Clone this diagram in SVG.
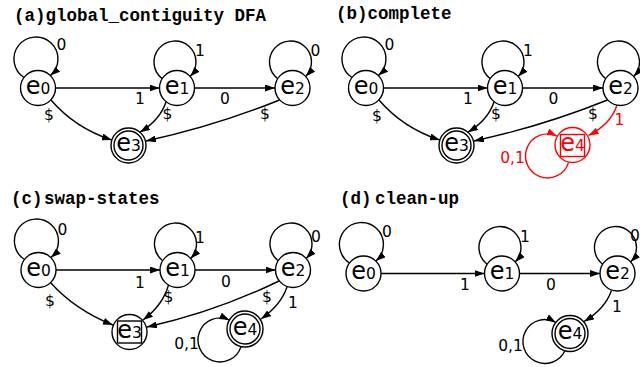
<svg xmlns="http://www.w3.org/2000/svg" width="640" height="367" viewBox="0 0 640 367">
<style>
.t{font-family:"Liberation Mono","Courier New",monospace;font-weight:bold;font-size:17.5px;fill:#000}
.n circle,.n rect{fill:none;stroke:#000;stroke-width:1.4}
.n circle.o{fill:#fff}
.n text{font-family:"DejaVu Sans",Verdana,sans-serif;font-size:24px;text-anchor:middle;fill:#000}
.n tspan{font-size:15.5px}
.red circle,.red rect{stroke:#f00}
.red text{fill:#f00}
.e path{fill:none;stroke:#000;stroke-width:1.4;marker-end:url(#a)}
.e path.r{stroke:#f00;marker-end:url(#ar)}
.l{font-family:"DejaVu Sans",Verdana,sans-serif;font-size:15.5px;text-anchor:middle;fill:#000}
.l .r{fill:#f00}
</style>
<defs>
<marker id="a" viewBox="0 0 10 7" refX="10" refY="3.5" markerWidth="10" markerHeight="7" markerUnits="userSpaceOnUse" orient="auto"><path d="M0,0L10,3.5L0,7z" fill="#000"/></marker>
<marker id="ar" viewBox="0 0 10 7" refX="10" refY="3.5" markerWidth="10" markerHeight="7" markerUnits="userSpaceOnUse" orient="auto"><path d="M0,0L10,3.5L0,7z" fill="#f00"/></marker>
</defs>
<rect width="640" height="367" fill="#fff"/>

<g id="titles">
<text class="t" x="14" y="20.5">(a)global_contiguity DFA</text>
<text class="t" x="336" y="19">(b)complete</text>
<text class="t" x="11" y="203.5">(c)<tspan x="44">swap-states</tspan></text>
<text class="t" x="340" y="203.5">(d)<tspan x="375">clean-up</tspan></text>
</g>

<g id="connectors" class="e">
<!-- panel a -->
<path transform="translate(38,88)" d="M-14 -10.5A22 22 0 1 1 12.4 -12.4"/>
<path transform="translate(177,88)" d="M-14.8 -9.3A21 21 0 1 1 13.2 -11.5"/>
<path transform="translate(292.5,88)" d="M-14.8 -9.3A21 21 0 1 1 13.2 -11.5"/>
<path d="M55.5 88H159.5"/>
<path d="M194.5 88H275"/>
<path d="M51 100Q75 128 111.9 140.1"/>
<path d="M166 102Q160 120 140 132.2"/>
<path d="M279.5 100Q215 126 146 141"/>
<!-- panel b -->
<path transform="translate(366,88)" d="M-14 -10.5A22 22 0 1 1 12.4 -12.4"/>
<path transform="translate(505,88)" d="M-14.8 -9.3A21 21 0 1 1 13.2 -11.5"/>
<path transform="translate(620.5,88)" d="M-14.8 -9.3A21 21 0 1 1 13.2 -11.5"/>
<path d="M383.5 88H487.5"/>
<path d="M522.5 88H603"/>
<path d="M379 100Q403 128 439.9 140.1"/>
<path d="M494 102Q488 120 468 132.2"/>
<path d="M607.5 100Q543 126 474 141"/>
<path class="r" d="M617 105Q611 124 588.5 135.5"/>
<path class="r" transform="translate(572.5,145)" d="M-4 17.6A22 22 0 1 1 -15.6 -8.9"/>
<!-- panel c -->
<path transform="translate(38.5,270)" d="M-14 -10.5A22 22 0 1 1 12.4 -12.4"/>
<path transform="translate(177.5,270)" d="M-14.8 -9.3A21 21 0 1 1 13.2 -11.5"/>
<path transform="translate(293,270)" d="M-14.8 -9.3A21 21 0 1 1 13.2 -11.5"/>
<path d="M56 270H160"/>
<path d="M195 270H275.5"/>
<path d="M50.5 282.5Q75 310 113 325"/>
<path d="M168.5 285Q163 305 143 320"/>
<path d="M279 281Q215 312 147 327"/>
<path d="M287 287Q281 305 261 319"/>
<path transform="translate(245,329)" d="M-4 17.6A22 22 0 1 1 -15.6 -8.9"/>
<!-- panel d -->
<path transform="translate(363.5,273.5)" d="M-14 -10.5A22 22 0 1 1 12.4 -12.4"/>
<path transform="translate(502,273.5)" d="M-14.8 -9.3A21 21 0 1 1 13.2 -11.5"/>
<path transform="translate(617.5,273.5)" d="M-14.8 -9.3A21 21 0 1 1 13.2 -11.5"/>
<path d="M381 273.5H484.5"/>
<path d="M519.5 273.5H600"/>
<path d="M611.5 290.5Q605 309 584 321.5"/>
<path transform="translate(570,333.5)" d="M-5.1 17.3A22 22 0 1 1 -14.1 -11.1"/>
</g>

<g id="edge-labels" class="l">
<text x="61.5" y="50">0</text>
<text x="200" y="56">1</text>
<text x="315.5" y="56">0</text>
<text x="140" y="103.5">1</text>
<text x="225" y="103.5">0</text>
<text x="49" y="120">$</text>
<text x="167.5" y="118.5">$</text>
<text x="265" y="118.5">$</text>

<text x="389.5" y="50">0</text>
<text x="528" y="55.5">1</text>
<text x="468" y="104">1</text>
<text x="553.5" y="103.5">0</text>
<text x="377" y="120.5">$</text>
<text x="496" y="118.5">$</text>
<text x="593" y="118.5">$</text>
<text class="r" x="619.5" y="125">1</text>
<text class="r" x="512.5" y="163">0,1</text>

<text x="62.5" y="235">0</text>
<text x="200" y="243">1</text>
<text x="316" y="241.5">0</text>
<text x="140" y="288">1</text>
<text x="226" y="287">0</text>
<text x="50" y="306">$</text>
<text x="168.5" y="302">$</text>
<text x="267" y="302">$</text>
<text x="293" y="308">1</text>
<text x="186.5" y="349">0,1</text>

<text x="387" y="236.5">0</text>
<text x="525" y="241.5">1</text>
<text x="630" y="241" text-anchor="start">0</text>
<text x="465" y="290">1</text>
<text x="551" y="290">0</text>
<text x="617" y="311.5">1</text>
<text x="510.5" y="351">0,1</text>
</g>

<g id="a-e0" class="n" transform="translate(38,88)"><circle class="o" r="17.5"/><text y="5.8">e<tspan>0</tspan></text></g>
<g id="a-e1" class="n" transform="translate(177,88)"><circle class="o" r="17.5"/><text y="5.8">e<tspan>1</tspan></text></g>
<g id="a-e2" class="n" transform="translate(292.5,88)"><circle class="o" r="17.5"/><text y="5.8">e<tspan>2</tspan></text></g>
<g id="a-e3" class="n" transform="translate(128.5,145.5)"><circle class="o" r="17.5"/><circle r="14.5"/><text y="5.8">e<tspan>3</tspan></text></g>

<g id="b-e0" class="n" transform="translate(366,88)"><circle class="o" r="17.5"/><text y="5.8">e<tspan>0</tspan></text></g>
<g id="b-e1" class="n" transform="translate(505,88)"><circle class="o" r="17.5"/><text y="5.8">e<tspan>1</tspan></text></g>
<g id="b-e2" class="n" transform="translate(620.5,88)"><circle class="o" r="17.5"/><text y="5.8">e<tspan>2</tspan></text></g>
<g id="b-e3" class="n" transform="translate(456.5,145.5)"><circle class="o" r="17.5"/><circle r="14.5"/><text y="5.8">e<tspan>3</tspan></text></g>
<g id="b-e4" class="n red" transform="translate(572.5,145)"><circle class="o" r="17.5"/><rect x="-12" y="-10.5" width="24" height="22"/><text y="5.8">e<tspan>4</tspan></text></g>

<g id="c-e0" class="n" transform="translate(38.5,270)"><circle class="o" r="17.5"/><text y="5.8">e<tspan>0</tspan></text></g>
<g id="c-e1" class="n" transform="translate(177.5,270)"><circle class="o" r="17.5"/><text y="5.8">e<tspan>1</tspan></text></g>
<g id="c-e2" class="n" transform="translate(293,270)"><circle class="o" r="17.5"/><text y="5.8">e<tspan>2</tspan></text></g>
<g id="c-e3" class="n" transform="translate(129.5,332)"><circle class="o" r="17.5"/><rect x="-12" y="-11" width="24" height="22"/><text y="5.8">e<tspan>3</tspan></text></g>
<g id="c-e4" class="n" transform="translate(245,329)"><circle class="o" r="18"/><circle r="15"/><text y="5.8">e<tspan>4</tspan></text></g>

<g id="d-e0" class="n" transform="translate(363.5,273.5)"><circle class="o" r="17.5"/><text y="5.8">e<tspan>0</tspan></text></g>
<g id="d-e1" class="n" transform="translate(502,273.5)"><circle class="o" r="17.5"/><text y="5.8">e<tspan>1</tspan></text></g>
<g id="d-e2" class="n" transform="translate(617.5,273.5)"><circle class="o" r="17.5"/><text y="5.8">e<tspan>2</tspan></text></g>
<g id="d-e4" class="n" transform="translate(570,333.5)"><circle class="o" r="18"/><circle r="15"/><text y="5.8">e<tspan>4</tspan></text></g>
</svg>
